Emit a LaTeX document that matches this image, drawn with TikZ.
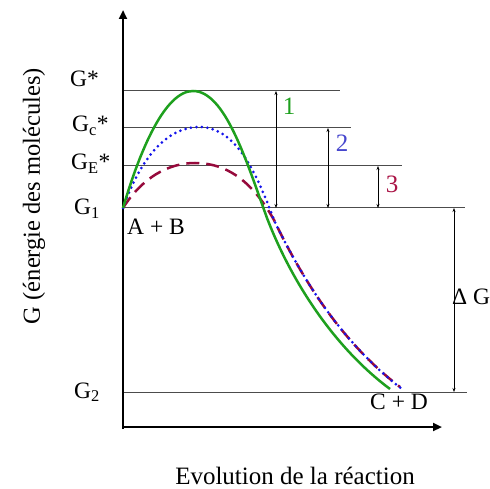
\documentclass[tikz,border=0pt]{standalone}
\usepackage{fontspec}
\setmainfont{Liberation Serif}
\usetikzlibrary{arrows.meta}

\definecolor{vertcat}{RGB}{30,160,30}
\definecolor{bleucat}{RGB}{20,20,235}
\definecolor{rougecat}{RGB}{150,10,60}
\definecolor{bleutxt}{RGB}{70,70,205}
\definecolor{rougetxt}{RGB}{170,20,70}

\tikzset{
  axe/.style={line width=2.5pt,-{Triangle[length=9pt,width=8pt]}},
  niveau/.style={line width=1pt,color=black!70},
  fleche/.style={line width=0.8pt,{Stealth[length=4pt,width=3pt]}-{Stealth[length=4pt,width=3pt]}},
  etiq/.style={font=\fontsize{23.5}{25}\selectfont,inner sep=0pt},
}

\begin{document}
\begin{tikzpicture}[x=1pt,y=-1pt]
\useasboundingbox (0,0) rectangle (490,489);

% axes
\coordinate (O) at (123,427);
\coordinate (ybas) at (123,429);
\coordinate (yhaut) at (123,10);
\coordinate (xfin) at (442,427);
\draw[axe] (ybas) -- (yhaut);
\draw[axe] (O) -- (xfin);

% energy levels
\foreach \n/\y/\xe in {gs/91/340, gc/128/351, ge/166/402, ga/208/465, gb/392/467}{
  \coordinate (\n l) at (124,\y);
  \coordinate (\n r) at (\xe,\y);
  \draw[niveau] (\n l) -- (\n r);
}

% differences
\foreach \n/\x/\ya/\yb in {d1/276/91/208, d2/328/128/208, d3/378/166/208, dg/454/208/392}{
  \coordinate (\n h) at (\x,\ya);
  \coordinate (\n b) at (\x,\yb);
  \draw[fleche] (\n h) -- (\n b);
}

% reaction paths
\draw[rougecat,line width=2.5pt,dash pattern=on 13pt off 7pt]
  (123,208) .. controls (142,178) and (168,163) .. (195,163)
  .. controls (232,163) and (256,188) .. (274,220)
  .. controls (305,285) and (345,345) .. (400,387);
\draw[bleucat,line width=3pt,line cap=round,dash pattern=on 0pt off 5.5pt]
  (123,208) .. controls (143,152) and (170,127) .. (199,127)
  .. controls (236,127) and (256,172) .. (274,220)
  .. controls (305,285) and (345,345) .. (402,389);
\draw[vertcat,line width=2.5pt]
  (123,208) .. controls (140,150) and (165,91) .. (193,91)
  .. controls (225,91) and (246,160) .. (267,218)
  .. controls (292,283) and (335,348) .. (390,389);

% labels
\node[etiq,anchor=base west] (lgs) at (70,87) {G*};
\node[etiq,anchor=base west] (lgc) at (72,132) {G\textsubscript{c}*};
\node[etiq,anchor=base west] (lge) at (71,170) {G\textsubscript{E}*};
\node[etiq,anchor=base west] (lga) at (74,215) {G\textsubscript{1}};
\node[etiq,anchor=base west] (lgb) at (74,398) {G\textsubscript{2}};

\node[etiq,anchor=base west] (ab) at (127,235) {A + B};
\node[etiq,anchor=base west] (cd) at (370,409) {C + D};
\node[etiq,anchor=base west] (dG) at (452,304) {Δ G};

\node[font=\fontsize{25}{27}\selectfont,text=vertcat,inner sep=0pt] (n1) at (289,106) {1};
\node[font=\fontsize{25}{27}\selectfont,text=bleutxt,inner sep=0pt] (n2) at (342,143) {2};
\node[font=\fontsize{25}{27}\selectfont,text=rougetxt,inner sep=0pt] (n3) at (392,184) {3};

\node[font=\fontsize{24.5}{27}\selectfont,rotate=90,inner sep=0pt] (ylab) at (34,196) {G (énergie des molécules)};
\node[font=\fontsize{25}{27}\selectfont,anchor=base] (xlab) at (295,484) {Evolution de la réaction};

\end{tikzpicture}
\end{document}
